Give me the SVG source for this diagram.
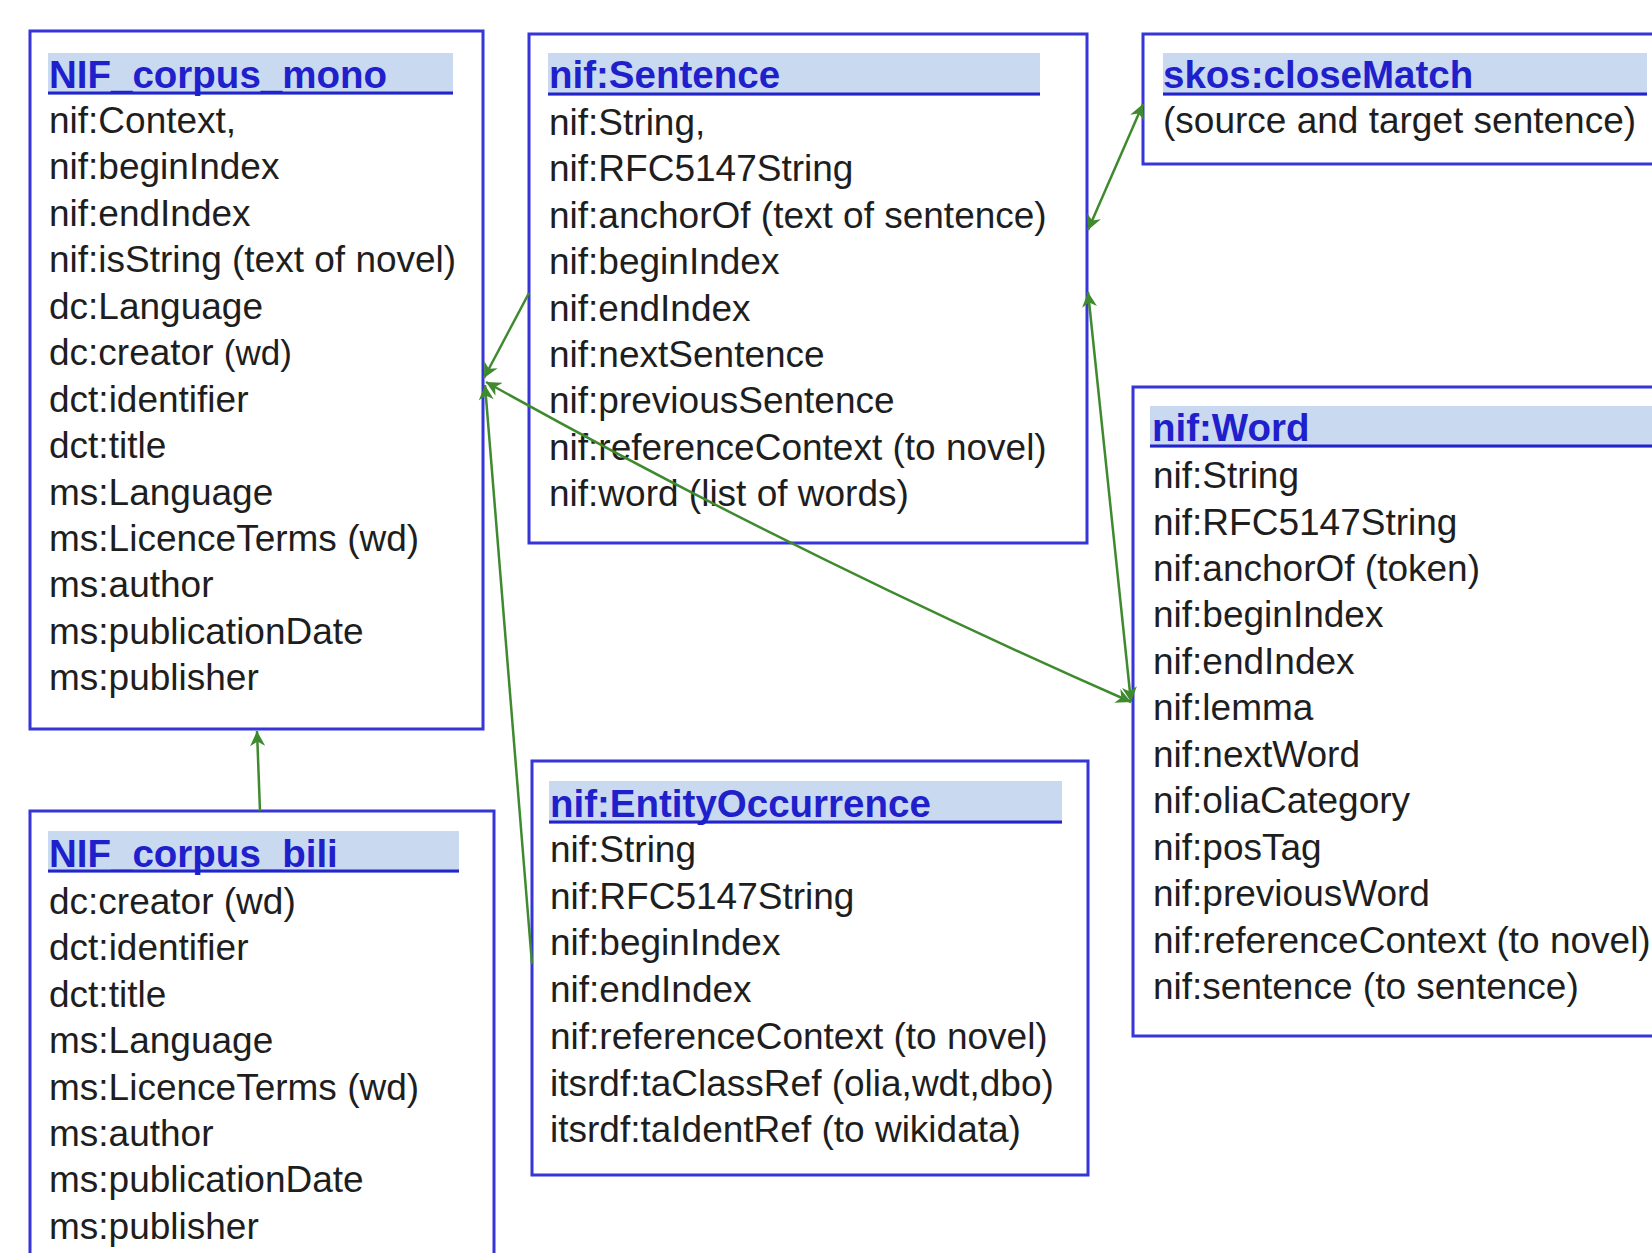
<svg xmlns="http://www.w3.org/2000/svg" width="1652" height="1253" viewBox="0 0 1652 1253">
<defs>
<style>
.box{fill:#ffffff;stroke:#3535d8;stroke-width:3}
.band{fill:#c9daf0}
.uline{stroke:#2424cc;stroke-width:3}
.title{font-family:"Liberation Sans",Arial,sans-serif;font-size:38.5px;font-weight:bold;fill:#1f1fcc}
.t{font-family:"Liberation Sans",Arial,sans-serif;font-size:37px;fill:#1e1e1e}
.conn{fill:none;stroke:#3f8a2f;stroke-width:2.5}
</style>
<marker id="ah" viewBox="0 0 10 10" refX="10" refY="5" markerWidth="20" markerHeight="15" markerUnits="userSpaceOnUse" orient="auto-start-reverse">
<path d="M0,0 L10,5 L0,10 L3,5 z" fill="#3f8a2f"/>
</marker>
</defs>
<rect x="0" y="0" width="1652" height="1253" fill="#ffffff"/>

<g id="nif-corpus-mono">
<rect class="box" x="30" y="31" width="453" height="698"/>
<rect class="band" x="48" y="53" width="405" height="42"/>
<line class="uline" x1="48" y1="93" x2="453" y2="93"/>
<text class="title" x="49" y="88">NIF_corpus_mono</text>
<text class="t" x="49" y="133">nif:Context,</text>
<text class="t" x="49" y="179.4">nif:beginIndex</text>
<text class="t" x="49" y="225.9">nif:endIndex</text>
<text class="t" x="49" y="272.3">nif:isString (text of novel)</text>
<text class="t" x="49" y="318.8">dc:Language</text>
<text class="t" x="49" y="365.2">dc:creator <tspan font-size="35">(wd)</tspan></text>
<text class="t" x="49" y="411.6">dct:identifier</text>
<text class="t" x="49" y="458.1">dct:title</text>
<text class="t" x="49" y="504.5">ms:Language</text>
<text class="t" x="49" y="551">ms:LicenceTerms (wd)</text>
<text class="t" x="49" y="597.4">ms:author</text>
<text class="t" x="49" y="643.8">ms:publicationDate</text>
<text class="t" x="49" y="690.3">ms:publisher</text>
</g>

<g id="nif-sentence">
<rect class="box" x="529" y="34" width="558" height="509"/>
<rect class="band" x="548" y="53" width="492" height="43"/>
<line class="uline" x1="548" y1="94" x2="1040" y2="94"/>
<text class="title" x="549" y="88">nif:Sentence</text>
<text class="t" x="549" y="135">nif:String,</text>
<text class="t" x="549" y="181.4">nif:RFC5147String</text>
<text class="t" x="549" y="227.8">nif:anchorOf (text of sentence)</text>
<text class="t" x="549" y="274.2">nif:beginIndex</text>
<text class="t" x="549" y="320.6">nif:endIndex</text>
<text class="t" x="549" y="367">nif:nextSentence</text>
<text class="t" x="549" y="413.4">nif:previousSentence</text>
<text class="t" x="549" y="459.8">nif:referenceContext (to novel)</text>
<text class="t" x="549" y="506.2">nif:word (list of words)</text>
</g>

<g id="skos-closematch">
<rect class="box" x="1143" y="34" width="560" height="130"/>
<rect class="band" x="1163" y="53" width="484" height="43"/>
<line class="uline" x1="1163" y1="94" x2="1647" y2="94"/>
<text class="title" x="1163" y="88">skos:closeMatch</text>
<text class="t" x="1163" y="133">(source and target sentence)</text>
</g>

<g id="nif-word">
<rect class="box" x="1133" y="387" width="560" height="649"/>
<rect class="band" x="1150" y="406" width="510" height="42"/>
<line class="uline" x1="1150" y1="446" x2="1660" y2="446"/>
<text class="title" x="1152" y="441">nif:Word</text>
<text class="t" x="1153" y="488">nif:String</text>
<text class="t" x="1153" y="534.5">nif:RFC5147String</text>
<text class="t" x="1153" y="580.9">nif:anchorOf (token)</text>
<text class="t" x="1153" y="627.4">nif:beginIndex</text>
<text class="t" x="1153" y="673.8">nif:endIndex</text>
<text class="t" x="1153" y="720.3">nif:lemma</text>
<text class="t" x="1153" y="766.8">nif:nextWord</text>
<text class="t" x="1153" y="813.2">nif:oliaCategory</text>
<text class="t" x="1153" y="859.7">nif:posTag</text>
<text class="t" x="1153" y="906.1">nif:previousWord</text>
<text class="t" x="1153" y="952.6">nif:referenceContext (to novel)</text>
<text class="t" x="1153" y="999.1">nif:sentence (to sentence)</text>
</g>

<g id="nif-entityoccurrence">
<rect class="box" x="532" y="761" width="556" height="414"/>
<rect class="band" x="549" y="781" width="513" height="43"/>
<line class="uline" x1="549" y1="822" x2="1062" y2="822"/>
<text class="title" x="550" y="817">nif:EntityOccurrence</text>
<text class="t" x="550" y="862">nif:String</text>
<text class="t" x="550" y="908.7">nif:RFC5147String</text>
<text class="t" x="550" y="955.4">nif:beginIndex</text>
<text class="t" x="550" y="1002.1">nif:endIndex</text>
<text class="t" x="550" y="1048.8">nif:referenceContext (to novel)</text>
<text class="t" x="550" y="1095.5">itsrdf:taClassRef (olia,wdt,dbo)</text>
<text class="t" x="550" y="1142.2">itsrdf:taIdentRef (to wikidata)</text>
</g>

<g id="nif-corpus-bili">
<rect class="box" x="30" y="811" width="464" height="480"/>
<rect class="band" x="48" y="831" width="411" height="42"/>
<line class="uline" x1="48" y1="871" x2="459" y2="871"/>
<text class="title" x="49" y="867">NIF_corpus_bili</text>
<text class="t" x="49" y="914">dc:creator (wd)</text>
<text class="t" x="49" y="960.4">dct:identifier</text>
<text class="t" x="49" y="1006.8">dct:title</text>
<text class="t" x="49" y="1053.2">ms:Language</text>
<text class="t" x="49" y="1099.6">ms:LicenceTerms (wd)</text>
<text class="t" x="49" y="1146">ms:author</text>
<text class="t" x="49" y="1192.4">ms:publicationDate</text>
<text class="t" x="49" y="1238.8">ms:publisher</text>
</g>

<g id="connectors">
<path class="conn" d="M529,293 L484,378" marker-end="url(#ah)"/>
<path class="conn" d="M486,382 Q790,552 1131,702" marker-start="url(#ah)" marker-end="url(#ah)"/>
<path class="conn" d="M1088,230 L1143,104" marker-start="url(#ah)" marker-end="url(#ah)"/>
<path class="conn" d="M1131,702 L1088,292" marker-start="url(#ah)" marker-end="url(#ah)"/>
<path class="conn" d="M532,964 L485,385" marker-end="url(#ah)"/>
<path class="conn" d="M260,811 L257,731" marker-end="url(#ah)"/>
</g>
</svg>
